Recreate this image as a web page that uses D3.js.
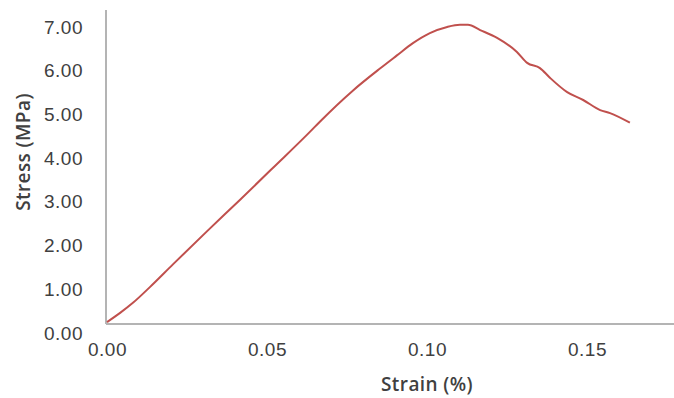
<!DOCTYPE html>
<html>
<head>
<meta charset="utf-8">
<script src="https://cdn.jsdelivr.net/npm/d3@7"></script>
<style>
  body { margin: 0; background: #fff; }
  svg { display: block; font-family: "Open Sans", sans-serif; }
  .tick text { fill: #404040; font-size: 19px; letter-spacing: 0.5px; }
  .axis-label { fill: #404040; font-size: 19px; font-weight: 600; letter-spacing: 0.4px; }
</style>
</head>
<body>
<div id="chart"></div>
<script>
// strain (%) and stress (MPa)
const strain = [0, 0.0041, 0.0081, 0.0134, 0.0206, 0.0313, 0.0416, 0.0519, 0.0634, 0.0666,
  0.0769, 0.0853, 0.0906, 0.0956, 0.1009, 0.1063, 0.1103, 0.1128, 0.1166, 0.1219,
  0.1281, 0.1313, 0.1353, 0.1384, 0.1438, 0.1488, 0.1541, 0.1572, 0.1634];
const stress = [0.25, 0.46, 0.69, 1.05, 1.57, 2.33, 3.05, 3.78, 4.60, 4.84,
  5.55, 6.05, 6.35, 6.63, 6.86, 7.00, 7.05, 7.05, 6.93, 6.75,
  6.43, 6.18, 6.06, 5.84, 5.51, 5.33, 5.10, 5.03, 4.81];

const xTicks = [0, 0.05, 0.10, 0.15];
const yTicks = [0, 1, 2, 3, 4, 5, 6, 7];

const xLabel = 'Strain (%)';
const yLabel = 'Stress (MPa)';

const width = 674;
const height = 398;
const plot = { left: 106, top: 10, bottom: 324 };

const data = strain.map((s, i) => ({ x: s, y: stress[i] }));

const xScale = d3.scaleLinear()
  .domain([0, 0.2])
  .range([107, 747]);

const yScale = d3.scaleLinear()
  .domain([0, 7])
  .range([333, 27]);

const svg = d3.select('#chart').append('svg')
  .attr('width', width)
  .attr('height', height);

// axis frame lines
svg.append('line')
  .attr('x1', plot.left).attr('x2', plot.left)
  .attr('y1', plot.top).attr('y2', plot.bottom)
  .attr('stroke', '#b4b4b4').attr('stroke-width', 2);

svg.append('line')
  .attr('x1', plot.left).attr('x2', width)
  .attr('y1', plot.bottom).attr('y2', plot.bottom)
  .attr('stroke', '#b4b4b4').attr('stroke-width', 2);

const xAxis = d3.axisBottom(xScale)
  .tickValues(xTicks)
  .tickFormat(d3.format('.2f'))
  .tickSize(0)
  .tickPadding(19);

const yAxis = d3.axisLeft(yScale)
  .tickValues(yTicks)
  .tickFormat(d3.format('.2f'))
  .tickSize(0)
  .tickPadding(23);

svg.append('g')
  .attr('transform', `translate(0,${plot.bottom})`)
  .call(xAxis)
  .call(g => g.select('.domain').remove());

svg.append('g')
  .attr('transform', `translate(${plot.left},0)`)
  .call(yAxis)
  .call(g => g.select('.domain').remove());

const line = d3.line()
  .x(d => xScale(d.x))
  .y(d => yScale(d.y))
  .curve(d3.curveMonotoneX);

svg.append('path')
  .datum(data)
  .attr('fill', 'none')
  .attr('stroke', '#c0504d')
  .attr('stroke-width', 2)
  .attr('d', line);

svg.append('text')
  .attr('class', 'axis-label')
  .attr('x', 427)
  .attr('y', 391)
  .attr('text-anchor', 'middle')
  .text(xLabel);

svg.append('text')
  .attr('class', 'axis-label')
  .attr('transform', 'translate(30,152) rotate(-90)')
  .attr('text-anchor', 'middle')
  .text(yLabel);
</script>
</body>
</html>
